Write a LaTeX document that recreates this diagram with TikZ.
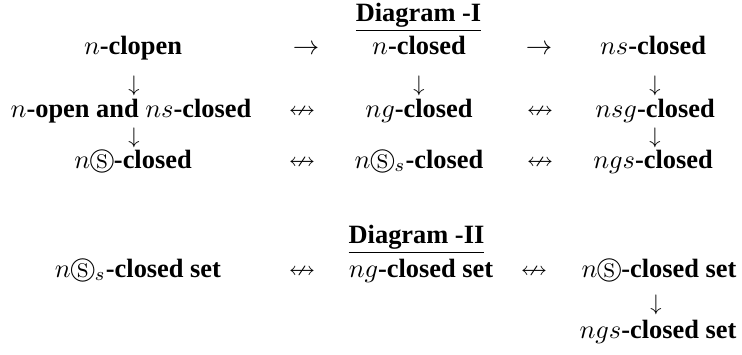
\documentclass[tikz,border=0pt]{standalone}
\usepackage{amssymb}
\usepackage[no-math]{fontspec}
\setmainfont{Liberation Serif}
\tikzset{
  lbl/.style={inner sep=0pt, anchor=base, font=\bfseries},
  glyph/.style={inner sep=0pt, anchor=base},
  vglyph/.style={inner sep=0pt, anchor=center, scale=0.85},
}
\begin{document}
\begin{tikzpicture}[x=0.37879pt, y=-0.37879pt]
\useasboundingbox (0,0) rectangle (742,354);

% ---- Diagram I ----
\node[lbl] (t1) at (418.5,21) {\underline{Diagram -I}};

% row 1
\node[lbl] (a1) at (133,54) {$n$-clopen};
\node[lbl] (a2) at (419,54) {$n$-closed};
\node[lbl] (a3) at (653,54) {$ns$-closed};
\node[glyph] (a12) at (306,54) {$\rightarrow$};
\node[glyph] (a23) at (539,54) {$\rightarrow$};

% arrows between rows 1 and 2
\node[vglyph] (ab1) at (134,86) {$\downarrow$};
\node[vglyph] (ab2) at (419,86) {$\downarrow$};
\node[vglyph] (ab3) at (655,86) {$\downarrow$};

% row 2
\node[lbl] (b1) at (131,117) {$n$-open and $ns$-closed};
\node[lbl] (b2) at (419,117) {$ng$-closed};
\node[lbl] (b3) at (655,117) {$nsg$-closed};
\node[glyph] (b12) at (302,117) {$\nleftrightarrow$};
\node[glyph] (b23) at (540,117) {$\nleftrightarrow$};

% arrows between rows 2 and 3
\node[vglyph] (bc1) at (134,138) {$\downarrow$};
\node[vglyph] (bc3) at (655,138) {$\downarrow$};

% row 3
\node[lbl] (c1) at (133,168) {$n\circledS$-closed};
\node[lbl] (c2) at (419,168) {$n\circledS_s$-closed};
\node[lbl] (c3) at (653,168) {$ngs$-closed};
\node[glyph] (c12) at (302,168) {$\nleftrightarrow$};
\node[glyph] (c23) at (540,168) {$\nleftrightarrow$};

% ---- Diagram II ----
\node[lbl] (t2) at (416.5,243) {\underline{Diagram -II}};

\node[lbl] (d1) at (138,277) {$n\circledS_s$-closed set};
\node[lbl] (d2) at (421,277) {$ng$-closed set};
\node[lbl] (d3) at (659,277) {$n\circledS$-closed set};
\node[glyph] (d12) at (302,277) {$\nleftrightarrow$};
\node[glyph] (d23) at (534,277) {$\nleftrightarrow$};

\node[vglyph] (de3) at (656,305) {$\downarrow$};
\node[lbl] (e3) at (658,338) {$ngs$-closed set};
\end{tikzpicture}
\end{document}
